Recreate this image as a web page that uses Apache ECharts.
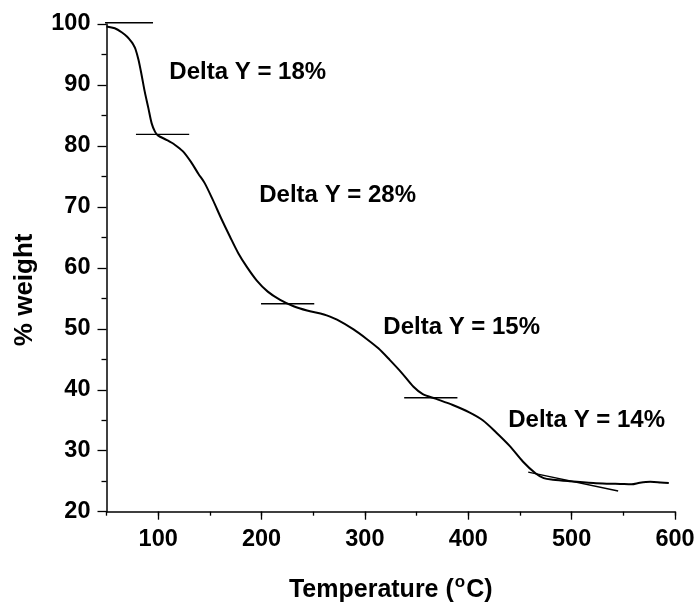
<!DOCTYPE html>
<html>
<head>
<meta charset="utf-8">
<script src="https://cdn.jsdelivr.net/npm/echarts@6/dist/echarts.min.js"></script>
<style>
  html, body { margin: 0; padding: 0; background: #fff; }
  #chart { width: 698px; height: 603px; }
</style>
</head>
<body>
<div id="chart"></div>
<script>
// TGA curve: temperature (°C) vs remaining weight (%)
const temperature = [50, 58, 65, 70, 74, 76, 78, 81, 84, 87, 90.5, 93.7, 97, 100, 108, 116, 124, 132, 139, 145, 153,
  161, 169.5, 177.5, 185.6, 195, 206, 218, 231, 244, 257, 263, 273, 289, 302, 313, 324, 336, 347, 356, 369,
  385, 401, 414, 427, 440, 453, 465, 473, 482, 498, 521, 534, 547, 558, 566, 576, 586, 594];
const weight = [99.6, 99.3, 98.6, 97.9, 97.1, 96.6, 95.9, 94.1, 91.6, 88.9, 86.2, 83.7, 82.3, 81.7, 81.0, 80.2, 79.1, 77.3, 75.4, 73.9, 71.1,
  68.1, 65.1, 62.4, 60.2, 58.0, 56.1, 54.75, 53.7, 53.0, 52.5, 52.2, 51.5, 49.9, 48.3, 46.8, 44.9, 42.7, 40.5, 39.3, 38.5,
  37.5, 36.3, 35.0, 33.0, 30.8, 28.2, 26.3, 25.5, 25.25, 25.0, 24.7, 24.6, 24.55, 24.5, 24.75, 24.9, 24.8, 24.7];

// Tangent segments marking each weight-loss step: [x0, y0, x1, y1]
const tangentX0 = [44, 78.5, 199.5, 338, 458];
const tangentY0 = [100.2, 81.9, 54.1, 38.7, 26.5];
const tangentX1 = [95, 130, 251, 389.5, 545];
const tangentY1 = [100.2, 81.9, 54.1, 38.7, 23.4];

// Weight loss of each step (%)
const deltaY = [18, 28, 15, 14];
// Where each step label starts (data coordinates)
const labelAnchorX = [110.8, 197.8, 317.8, 438.7];
const labelAnchorY = [92.05, 71.85, 50.25, 34.95];

const xTickLabels = [100, 200, 300, 400, 500, 600];
const yTickLabels = [20, 30, 40, 50, 60, 70, 80, 90, 100];

const FONT = "'Liberation Sans', Arial, sans-serif";
const INK = '#000';

const curve = temperature.map((t, i) => [t, weight[i]]);
const tangentSeries = tangentX0.map((x0, i) => ({
  type: 'line',
  xAxisIndex: 0,
  data: [[x0, tangentY0[i]], [tangentX1[i], tangentY1[i]]],
  showSymbol: false,
  clip: false,
  silent: true,
  lineStyle: { color: INK, width: 1.4 },
  z: 3
}));
const labelData = deltaY.map((d, i) => ({
  value: [labelAnchorX[i], labelAnchorY[i]],
  name: 'Delta Y = ' + d + '%'
}));

const chart = echarts.init(document.getElementById('chart'), null, { renderer: 'canvas' });
chart.setOption({
  backgroundColor: '#fff',
  animation: false,
  grid: { left: 106.5, right: 23, top: 24, bottom: 91.3, containLabel: false, outerBoundsMode: 'none' },
  xAxis: [
    {
      type: 'value',
      min: 50, max: 600, interval: 50,
      name: '{t|Temperature (}{s|o}{t|C)}',
      nameLocation: 'middle',
      nameGap: 62,
      nameTextStyle: {
        rich: {
          t: { fontFamily: FONT, fontWeight: 'bold', fontSize: 25, color: INK },
          s: { fontFamily: FONT, fontWeight: 'bold', fontSize: 17, color: INK, verticalAlign: 'bottom', padding: [0, 1, 15, 1] }
        }
      },
      axisLine: { show: true, lineStyle: { color: INK, width: 1.5 } },
      axisTick: { show: true, inside: false, length: 4, lineStyle: { color: INK, width: 1.3 } },
      axisLabel: {
        margin: 16,
        fontFamily: FONT, fontWeight: 'bold', fontSize: 23.5, color: INK,
        formatter: v => (xTickLabels.indexOf(v) >= 0 ? String(v) : '')
      },
      splitLine: { show: false }
    },
    {
      type: 'value',
      position: 'bottom',
      min: 50, max: 600,
      axisLine: { show: false },
      axisLabel: { show: false },
      axisTick: { show: true, inside: false, length: 8, customValues: xTickLabels, lineStyle: { color: INK, width: 1.3 } },
      splitLine: { show: false }
    }
  ],
  yAxis: {
    type: 'value',
    min: 20, max: 100, interval: 10,
    name: '% weight',
    nameLocation: 'middle',
    nameGap: 69,
    nameTextStyle: { fontFamily: FONT, fontWeight: 'bold', fontSize: 26, color: INK, padding: [0, 44, 0, 0] },
    axisLine: { show: true, lineStyle: { color: INK, width: 1.5 } },
    axisTick: { show: true, inside: false, length: 9, lineStyle: { color: INK, width: 1.3 } },
    minorTick: { show: true, splitNumber: 2, length: 5, lineStyle: { color: INK, width: 1.3 } },
    axisLabel: {
      margin: 16,
      fontFamily: FONT, fontWeight: 'bold', fontSize: 23.5, color: INK,
      formatter: v => (yTickLabels.indexOf(v) >= 0 ? String(v) : '')
    },
    splitLine: { show: false }
  },
  series: [
    {
      type: 'line',
      xAxisIndex: 0,
      data: curve,
      smooth: 0.3,
      showSymbol: false,
      clip: false,
      silent: true,
      lineStyle: { color: INK, width: 2 },
      z: 4
    },
    ...tangentSeries,
    {
      type: 'scatter',
      xAxisIndex: 0,
      data: labelData,
      symbolSize: 0,
      silent: true,
      itemStyle: { color: INK, opacity: 1 },
      label: {
        show: true,
        position: 'right',
        distance: 0,
        formatter: p => p.name,
        fontFamily: FONT, fontWeight: 'bold', fontSize: 24, color: INK, opacity: 1
      },
      z: 5
    }
  ]
});
</script>
</body>
</html>
